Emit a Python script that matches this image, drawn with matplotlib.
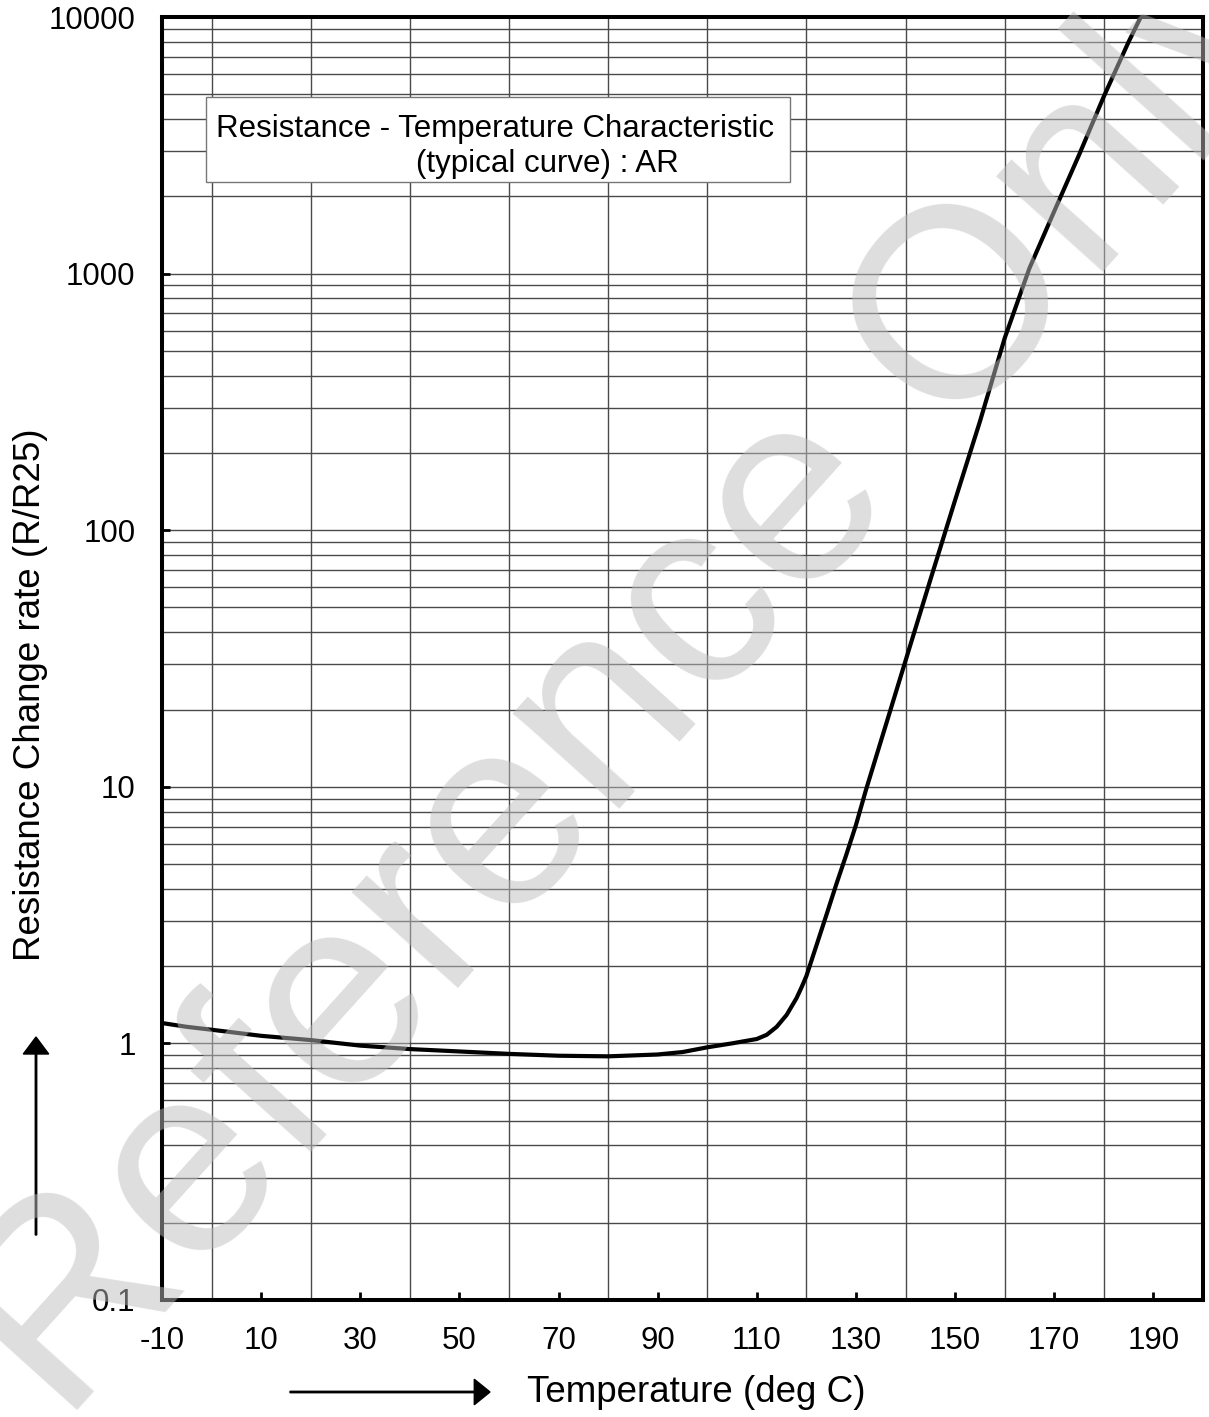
import matplotlib
matplotlib.use('Agg')
import matplotlib.pyplot as plt
import numpy as np

plt.rcParams['font.family'] = ['Liberation Sans', 'DejaVu Sans']

# typical R/R25 curve
temp = [-10, -5, 0, 10, 20, 30, 40, 50, 60, 70, 80, 90, 95, 100, 105, 110,
        112, 114, 116, 118, 119, 120, 122, 124, 126, 128, 130, 132, 135, 140,
        145, 150, 155, 160, 165, 170, 175, 180, 185, 188]
ratio = [1.2, 1.16, 1.13, 1.07, 1.03, 0.98, 0.95, 0.93, 0.91, 0.895, 0.89,
         0.905, 0.925, 0.965, 1.0, 1.04, 1.08, 1.16, 1.29, 1.5, 1.65, 1.83,
         2.4, 3.15, 4.15, 5.4, 7.1, 9.7, 15.0, 31.0, 64.0, 131.0, 265.0,
         560.0, 1050.0, 1750.0, 2900.0, 4900.0, 8000.0, 10500.0]

x_ticks = [-10, 10, 30, 50, 70, 90, 110, 130, 150, 170, 190]
y_ticks = [0.1, 1, 10, 100, 1000, 10000]
y_labels = ['0.1', '1', '10', '100', '1000', '10000']

fig = plt.figure(figsize=(12.09, 14.17), dpi=100)
ax = fig.add_axes([0.134, 0.0826, 0.861, 0.9054])

ax.set_yscale('log')
ax.set_xlim(-10, 200)
ax.set_ylim(0.1, 10000)

# grid: every 10 deg, log minors
ax.set_xticks(np.arange(-10, 201, 10), minor=True)
ax.grid(True, which='minor', axis='x', color='#4a4a4a', lw=1.0)
ax.grid(True, which='both', axis='y', color='#4a4a4a', lw=1.0)
ax.set_axisbelow(True)

ax.plot(temp, ratio, color='black', lw=3.0, solid_capstyle='round',
        solid_joinstyle='round', zorder=5)

ax.set_xticks(x_ticks)
ax.set_xticklabels([str(t) for t in x_ticks])
ax.set_yticks(y_ticks)
ax.set_yticklabels(y_labels)
ax.tick_params(axis='both', which='major', direction='in', length=6, width=2,
               labelsize=22.5, pad=19)
ax.tick_params(axis='x', which='minor', length=0)
ax.tick_params(axis='y', which='minor', length=0)
ax.yaxis.set_minor_formatter(matplotlib.ticker.NullFormatter())

for s in ax.spines.values():
    s.set_linewidth(2.9)
    s.set_zorder(6)

# title box
box = plt.Rectangle((206 / 1209, 1 - 182 / 1417), 584 / 1209, 85 / 1417,
                    transform=fig.transFigure, facecolor='white',
                    edgecolor='#777777', lw=1.0, zorder=3)
fig.patches.append(box)
fig.text(216 / 1209, 1 - 137 / 1417, 'Resistance - Temperature Characteristic',
         fontsize=22.5, ha='left', va='baseline', zorder=4)
fig.text(416 / 1209, 1 - 172 / 1417, '(typical curve) : AR',
         fontsize=22.5, ha='left', va='baseline', zorder=4)

# axis labels and arrows
fig.text(31 / 1209, 1 - 695 / 1417, 'Resistance Change rate (R/R25)',
         fontsize=26.5, rotation=90, ha='center', va='center')
fig.text(527 / 1209, 1 - 1392 / 1417, 'Temperature (deg C)',
         fontsize=26.5, ha='left', va='center')
fig.patches.append(matplotlib.patches.FancyArrow(
    36 / 1209, 1 - 1235 / 1417, 0, 198 / 1417, width=0.0012,
    head_width=0.021, head_length=0.012, length_includes_head=True,
    transform=fig.transFigure, color='black'))
fig.patches.append(matplotlib.patches.FancyArrow(
    290 / 1209, 1 - 1392 / 1417, 200 / 1209, 0, width=0.0010,
    head_width=0.018, head_length=0.013, length_includes_head=True,
    transform=fig.transFigure, color='black'))

# watermark
fig.text(0.53, 0.52, 'Reference Only', fontsize=195, color='#bdbdbd',
         alpha=0.5, rotation=48, rotation_mode='anchor',
         ha='center', va='center', zorder=20)

plt.savefig('out.png', dpi=100)
